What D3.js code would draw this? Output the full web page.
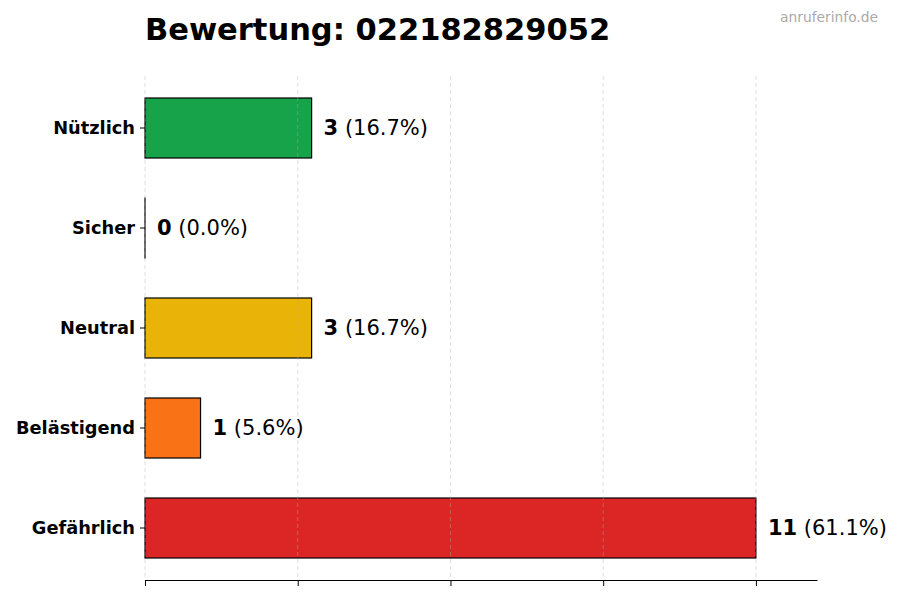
<!DOCTYPE html>
<html>
<head>
<meta charset="utf-8">
<script src="https://cdn.jsdelivr.net/npm/d3@7"></script>
<style>
  body { margin: 0; background: #fff; }
  svg text { font-family: "DejaVu Sans", sans-serif; }
</style>
</head>
<body>
<svg id="chart" width="900" height="600"></svg>
<script>
// values
var categories = ["Nützlich", "Sicher", "Neutral", "Belästigend", "Gefährlich"];
var counts = [3, 0, 3, 1, 11];
var colors = ["#16a34a", "#9ca3af", "#eab308", "#f97316", "#dc2626"];
var tickValues = [0, 2.75, 5.5, 8.25, 11];

var total = d3.sum(counts);
var maxVal = d3.max(counts);

var margin = {top: 76, right: 83, bottom: 20, left: 145},
    width = 900 - margin.left - margin.right,
    height = 580 - margin.top;

var svg = d3.select("#chart");

svg.append("text")
    .attr("x", 145)
    .attr("y", 40)
    .attr("font-size", 30.5)
    .attr("font-weight", "bold")
    .text("Bewertung: 022182829052");

svg.append("text")
    .attr("x", 878)
    .attr("y", 22)
    .attr("text-anchor", "end")
    .attr("font-size", 13.8)
    .attr("fill", "#aaaaaa")
    .text("anruferinfo.de");

var g = svg.append("g")
    .attr("transform", "translate(" + margin.left + "," + margin.top + ")");

var x = d3.scaleLinear()
    .domain([0, maxVal * 1.1])
    .range([0, width]);

var y = d3.scaleBand()
    .domain(categories)
    .range([0, height])
    .paddingInner(0.4)
    .paddingOuter(0.22);

// bars (zero bars keep a hairline so the edge shows)
g.selectAll("rect.bar")
    .data(categories)
    .enter().append("rect")
    .attr("class", "bar")
    .attr("x", x(0))
    .attr("y", function(d) { return y(d); })
    .attr("width", function(d, i) { return Math.max(x(counts[i]) - x(0), 0.01); })
    .attr("height", y.bandwidth())
    .attr("fill", function(d, i) { return colors[i]; })
    .attr("stroke", "#000")
    .attr("stroke-width", 1.2);

// grid over bars, faint dashed
g.selectAll("line.grid")
    .data(tickValues)
    .enter().append("line")
    .attr("class", "grid")
    .attr("x1", function(d) { return x(d); })
    .attr("x2", function(d) { return x(d); })
    .attr("y1", 0)
    .attr("y2", height)
    .attr("stroke", "#b0b0b0")
    .attr("stroke-opacity", 0.5)
    .attr("stroke-dasharray", "4,3")
    .attr("stroke-width", 0.8);

// value labels
var labels = g.selectAll("text.val")
    .data(categories)
    .enter().append("text")
    .attr("class", "val")
    .attr("x", function(d, i) { return x(counts[i]) + 12; })
    .attr("y", function(d) { return y(d) + y.bandwidth() / 2; })
    .attr("dy", "0.35em")
    .attr("font-size", 21);

labels.append("tspan")
    .attr("font-weight", "bold")
    .text(function(d, i) { return counts[i]; });
labels.append("tspan")
    .text(function(d, i) { return " (" + (counts[i] / total * 100).toFixed(1) + "%)"; });

// x axis, no labels
var xAxis = g.append("g")
    .attr("transform", "translate(0," + height + ")")
    .call(d3.axisBottom(x).tickValues(tickValues).tickFormat("").tickSize(6).tickSizeOuter(0));
xAxis.select(".domain").attr("stroke-width", 1.2);

// y axis, only ticks and labels
var yAxis = g.append("g")
    .call(d3.axisLeft(y).tickSize(5).tickPadding(5));
yAxis.select(".domain").remove();
yAxis.selectAll("text")
    .attr("font-family", "DejaVu Sans")
    .attr("font-size", 17.8)
    .attr("font-weight", "bold")
    .attr("fill", "#000");
</script>
</body>
</html>
